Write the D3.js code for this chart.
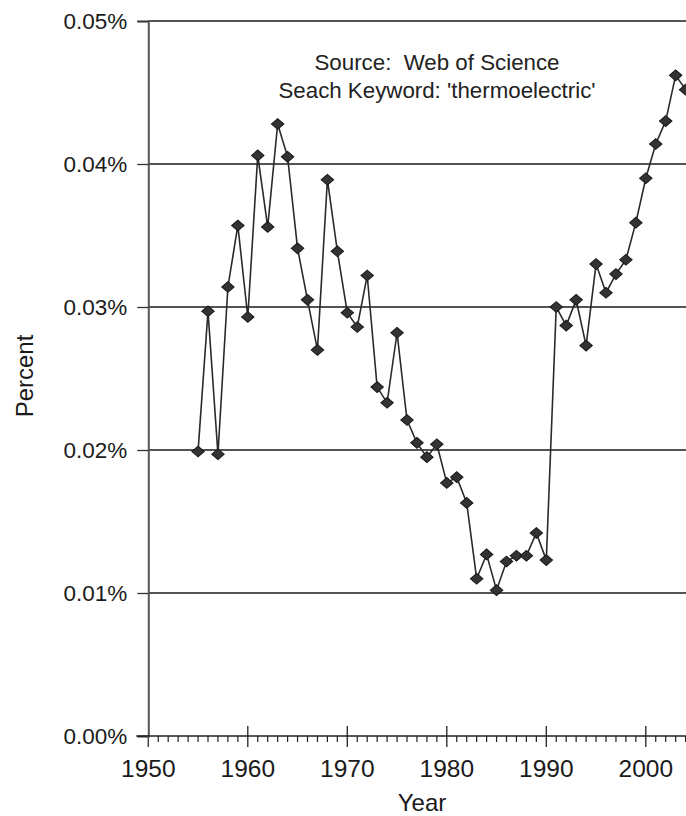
<!DOCTYPE html>
<html>
<head>
<meta charset="utf-8">
<script src="https://cdn.jsdelivr.net/npm/d3@7"></script>
<style>
  html, body { margin: 0; padding: 0; background: #fff; }
  svg { display: block; font-family: "Liberation Sans", Arial, Helvetica, sans-serif; }
</style>
</head>
<body>
<svg id="chart" width="686" height="816"></svg>
<script>
// ---- data ----
const years = [1955,1956,1957,1958,1959,1960,1961,1962,1963,1964,1965,1966,1967,1968,1969,
  1970,1971,1972,1973,1974,1975,1976,1977,1978,1979,1980,1981,1982,1983,1984,1985,1986,1987,
  1988,1989,1990,1991,1992,1993,1994,1995,1996,1997,1998,1999,2000,2001,2002,2003,2004];
const percents = [0.0199,0.0297,0.0197,0.0314,0.0357,0.0293,0.0406,0.0356,0.0428,0.0405,0.0341,
  0.0305,0.0270,0.0389,0.0339,0.0296,0.0286,0.0322,0.0244,0.0233,0.0282,0.0221,0.0205,0.0195,
  0.0204,0.0177,0.0181,0.0163,0.0110,0.0127,0.0102,0.0122,0.0126,0.0126,0.0142,0.0123,0.0300,
  0.0287,0.0305,0.0273,0.0330,0.0310,0.0323,0.0333,0.0359,0.0390,0.0414,0.0430,0.0462,0.0452];
const yTicks = [0, 0.01, 0.02, 0.03, 0.04, 0.05];
const yTickLabels = ["0.00%", "0.01%", "0.02%", "0.03%", "0.04%", "0.05%"];
const xMajorTicks = [1950, 1960, 1970, 1980, 1990, 2000, 2010];
const xTickLabels = ["1950", "1960", "1970", "1980", "1990", "2000"];
const xMinorTicks = d3.range(1950, 2011).filter(y => y % 10 !== 0);
const annotation = ["Source:  Web of Science", "Seach Keyword: 'thermoelectric'"];

// ---- scales ----
const x = d3.scaleLinear().domain([1950, 2000]).range([148.3, 645.8]);
const y = d3.scaleLinear().domain([0, 0.05]).range([736, 21]);
const svg = d3.select("#chart");
svg.append("rect").attr("width", 686).attr("height", 816).attr("fill", "#fff");

const xRight = x(2010);

// gridlines
svg.append("g").selectAll("line").data(yTicks.filter(d => d > 0)).join("line")
  .attr("x1", x(1950)).attr("x2", xRight)
  .attr("y1", d => y(d)).attr("y2", d => y(d))
  .attr("stroke", "#1a1a1a").attr("stroke-width", 1.5);

// y axis
const yAxis = d3.axisLeft(y).tickValues(yTicks)
  .tickFormat((d, i) => yTickLabels[i])
  .tickSize(11).tickPadding(10);
const gy = svg.append("g").attr("transform", `translate(${x(1950)},0)`).call(yAxis);
gy.attr("font-size", null).attr("font-family", null);
gy.select(".domain").attr("stroke", "#555").attr("stroke-width", 2);
gy.selectAll(".tick line").attr("stroke", "#333").attr("stroke-width", 1.3);
gy.selectAll(".tick text")
  .style("font-size", "22.5px")
  .style("font-family", "'Liberation Sans', Arial, sans-serif")
  .attr("fill", "#1a1a1a");

// x axis line
svg.append("line").attr("x1", x(1950) - 12).attr("x2", xRight)
  .attr("y1", y(0)).attr("y2", y(0)).attr("stroke", "#222").attr("stroke-width", 1.6);

// minor ticks (hang below)
svg.append("g").selectAll("line").data(xMinorTicks).join("line")
  .attr("x1", d => x(d)).attr("x2", d => x(d))
  .attr("y1", y(0)).attr("y2", y(0) + 6)
  .attr("stroke", "#222").attr("stroke-width", 1.2);
// major ticks (cross)
svg.append("g").selectAll("line").data(xMajorTicks.filter(d => d > 1950)).join("line")
  .attr("x1", d => x(d)).attr("x2", d => x(d))
  .attr("y1", y(0) - 10).attr("y2", y(0) + 11)
  .attr("stroke", "#222").attr("stroke-width", 1.3);
svg.append("line").attr("x1", x(1950)).attr("x2", x(1950))
  .attr("y1", y(0)).attr("y2", y(0) + 11).attr("stroke", "#444").attr("stroke-width", 1.5);
// x labels
svg.append("g").selectAll("text").data(xTickLabels).join("text")
  .attr("x", d => x(+d)).attr("y", 777)
  .attr("text-anchor", "middle").style("font-size", "24.5px").attr("fill", "#1a1a1a")
  .text(d => d);

// axis titles
svg.append("text").attr("x", 422).attr("y", 811).attr("text-anchor", "middle")
  .style("font-size", "24px").attr("fill", "#1a1a1a").text("Year");
svg.append("text").attr("transform", "translate(33,376) rotate(-90)")
  .attr("text-anchor", "middle").style("font-size", "24px").attr("fill", "#1a1a1a").text("Percent");

// annotation
svg.append("g").selectAll("text").data(annotation).join("text")
  .attr("x", 437).attr("y", (d, i) => 70 + i * 28)
  .attr("text-anchor", "middle").style("font-size", "22.3px").attr("fill", "#222")
  .attr("xml:space", "preserve").style("white-space", "pre")
  .text(d => d);

// line
const data = years.map((yr, i) => ({ yr, v: percents[i] }));
svg.append("path").datum(data)
  .attr("fill", "none").attr("stroke", "#2a2a2a").attr("stroke-width", 1.6)
  .attr("d", d3.line().x(d => x(d.yr)).y(d => y(d.v)));

// diamond markers
svg.append("g").selectAll("path").data(data).join("path")
  .attr("d", d3.symbol().type(d3.symbolSquare).size(64)())
  .attr("transform", d => `translate(${x(d.yr)},${y(d.v)}) scale(1.1,0.95) rotate(45)`)
  .attr("fill", "#333").attr("stroke", "#1a1a1a").attr("stroke-width", 1);
</script>
</body>
</html>
